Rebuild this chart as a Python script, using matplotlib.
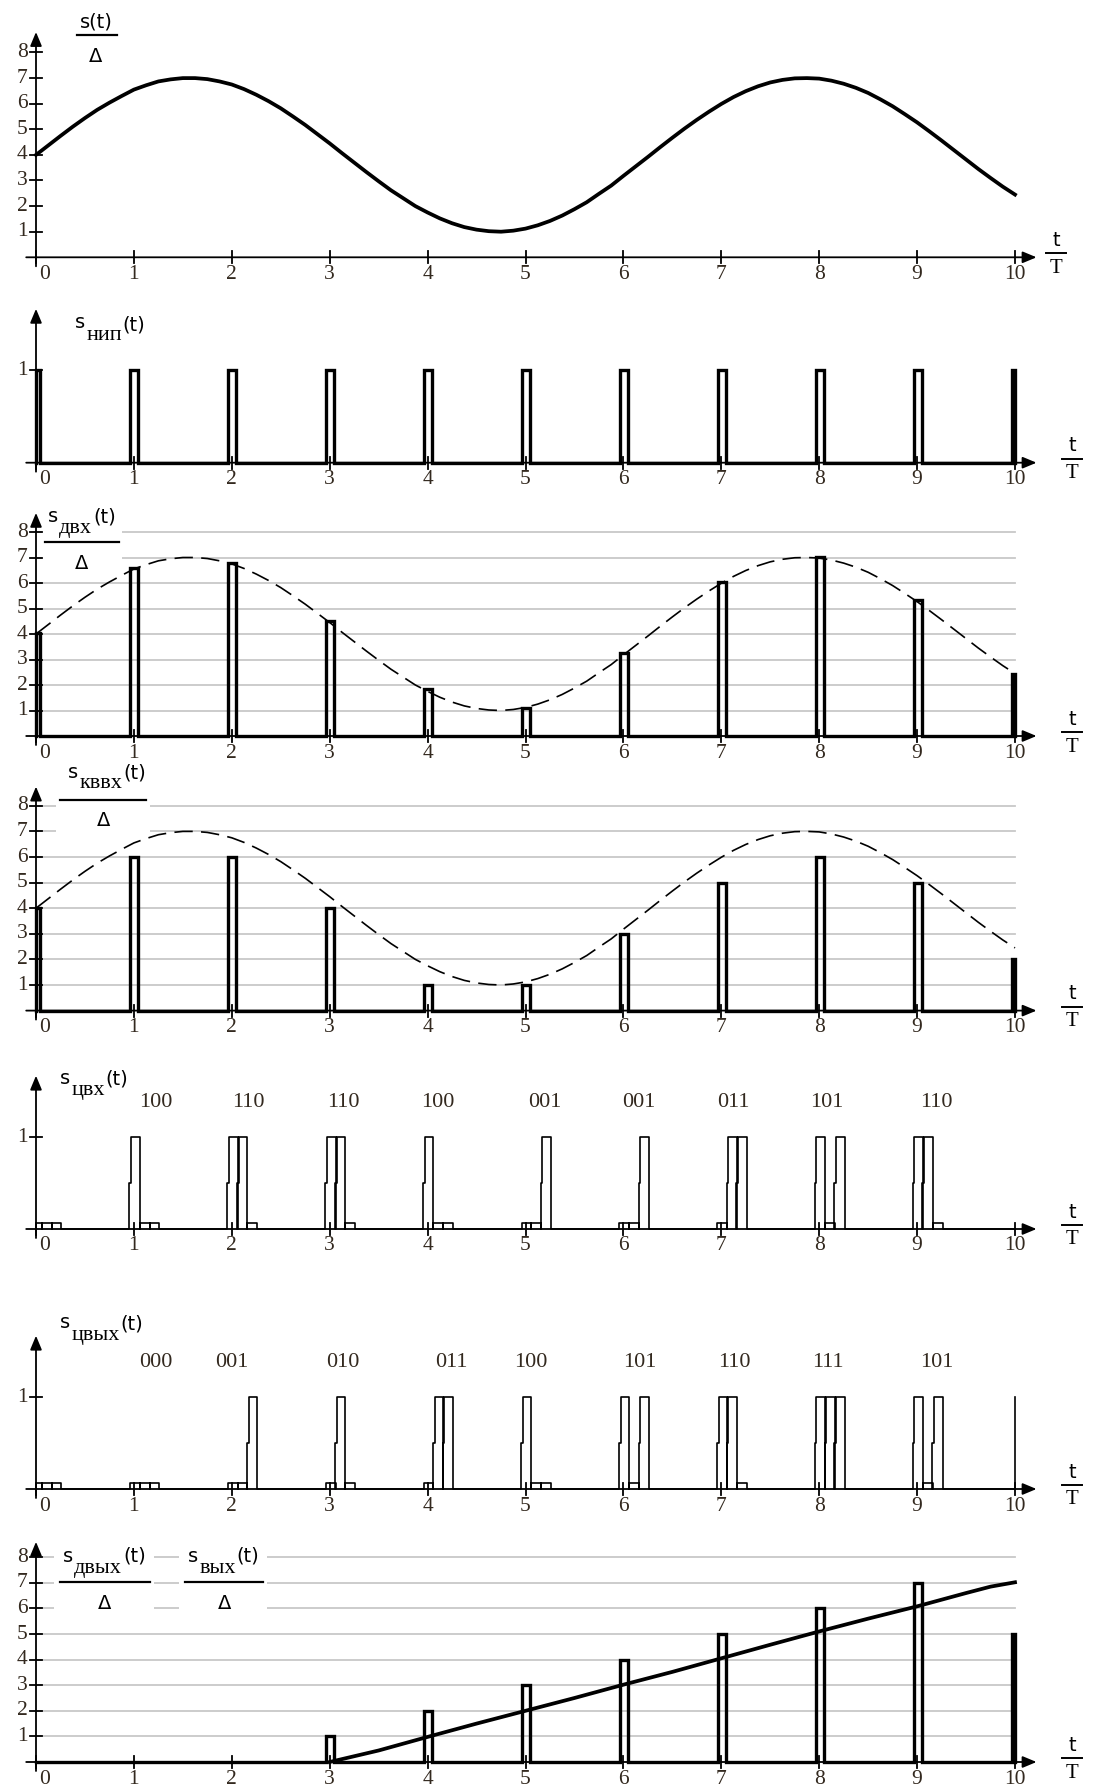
import numpy as np
import matplotlib
matplotlib.use('Agg')
import matplotlib.pyplot as plt
from matplotlib.patches import Rectangle
from matplotlib.lines import Line2D

W, H = 1094, 1792

# s(t)/Δ every 0.125 T
t_curve = np.arange(0, 10.001, 0.125)
s_curve = [4.00, 4.37, 4.74, 5.10, 5.44, 5.76, 6.04, 6.30, 6.55, 6.72, 6.87, 6.95, 7.00, 7.00,
           6.96, 6.87, 6.75, 6.57, 6.35, 6.10, 5.82, 5.50, 5.17, 4.81, 4.45, 4.07, 3.70, 3.33,
           2.97, 2.62, 2.31, 2.00, 1.75, 1.52, 1.33, 1.18, 1.08, 1.02, 1.00, 1.04, 1.12, 1.25,
           1.42, 1.63, 1.88, 2.15, 2.48, 2.80, 3.18, 3.55, 3.92, 4.30, 4.67, 5.03, 5.37, 5.69,
           5.99, 6.26, 6.49, 6.68, 6.83, 6.93, 6.99, 7.00, 6.98, 6.90, 6.78, 6.62, 6.42, 6.17,
           5.90, 5.59, 5.27, 4.92, 4.56, 4.19, 3.82, 3.45, 3.10, 2.76, 2.45]

t_k = list(range(11))
s_samples = [4.05, 6.6, 6.78, 4.5, 1.85, 1.1, 3.25, 6.05, 7.02, 5.32, 2.45]   # s_двх/Δ
s_quant = [4, 6, 6, 4, 1, 1, 3, 5, 6, 5, 2]                                     # s_кввх/Δ
codes_in = ['000', '100', '110', '110', '100', '001', '001', '011', '101', '110']
codes_out = ['000', '000', '001', '010', '011', '100', '101', '110', '111', '101']
label_in_t = [1.22, 2.17, 3.14, 4.10, 5.20, 6.16, 7.12, 8.08, 9.20]
label_out_t = [1.22, 2.00, 3.13, 4.24, 5.05, 6.17, 7.13, 8.09, 9.20]
s_out_levels = [0, 0, 0, 1, 2, 3, 4, 5, 6, 7, 5]                               # s_двых/Δ
t_smooth = [3.0, 3.5, 4.0, 4.5, 5.0, 5.5, 6.0, 6.5, 7.0, 7.5, 8.0, 8.5, 9.0, 9.5, 9.75, 10.0]
s_smooth = [0.0, 0.45, 0.98, 1.5, 2.0, 2.5, 3.02, 3.52, 4.05, 4.58, 5.1, 5.6, 6.08, 6.6, 6.85, 7.02]

TICK_C = '#33291f'
SERIF = 'Liberation Serif'
SANS = 'DejaVu Sans'

fig = plt.figure(figsize=(W / 100, H / 100), dpi=100)
renderer = fig.canvas.get_renderer()

X0, XU = 36.0, 97.9   # pixel of t=0, pixels per T
xl = (-X0 / XU, (W - X0) / XU)


def ptext(x, y, s, **kw):
    return fig.text(x / W, 1 - y / H, s, **kw)


def pline(x1, x2, y, lw=1.6):
    fig.add_artist(Line2D([x1 / W, x2 / W], [1 - y / H, 1 - y / H], transform=fig.transFigure,
                          color='k', lw=lw))


def make_panel(top, bottom, y0, unit, yticks, ytop, tT_x=1072):
    ax = fig.add_axes([0, 1 - bottom / H, 1, (bottom - top) / H])
    ax.set_xlim(*xl)
    ax.set_ylim((y0 - bottom) / unit, (y0 - top) / unit)
    ax.axis('off')
    px = 1.0 / unit
    # axes with arrows
    ax.annotate('', xy=(10.22, 0), xytext=(-0.1, 0), zorder=6,
                arrowprops=dict(arrowstyle='-|>,head_length=0.6,head_width=0.25', lw=1.3,
                                color='k', mutation_scale=14, shrinkA=0, shrinkB=0))
    ax.annotate('', xy=(0, ytop), xytext=(0, -9 * px), zorder=6,
                arrowprops=dict(arrowstyle='-|>,head_length=0.6,head_width=0.25', lw=1.3,
                                color='k', mutation_scale=14, shrinkA=0, shrinkB=0))
    for k in t_k:
        ax.plot([k, k], [-6 * px, 6 * px], color='k', lw=1.3, zorder=6)
        ax.text(k + (0.09 if k == 0 else 0), -17 * px, str(k), ha='center', va='center',
                fontsize=15.5, family=SERIF, color=TICK_C)
    for v in yticks:
        ax.plot([-0.065, 0.065], [v, v], color='k', lw=1.3, zorder=6)
        ax.text(-0.085, v, str(v), ha='right', va='center', fontsize=15.5, family=SERIF, color=TICK_C)
    # t/T
    ptext(tT_x, y0 - 17, 't', ha='center', va='center', fontsize=14, family=SANS)
    pline(tT_x - 10, tT_x + 10, y0 - 4, lw=1.4)
    ptext(tT_x, y0 + 11, 'T', ha='center', va='center', fontsize=15, family=SERIF)
    return ax


def grid(ax):
    for v in range(1, 9):
        ax.plot([0, 10], [v, v], color='#c8c8c8', lw=1.3, zorder=1)


def mask(ax, y0, unit, x1, x2, y1, y2):
    ax.add_patch(Rectangle(((x1 - X0) / XU, (y0 - y2) / unit), (x2 - x1) / XU, (y2 - y1) / unit,
                           facecolor='white', edgecolor='none', zorder=1.5))


def pulses(ax, heights, lw=2.4):
    xs, ys = [0], [0]
    for k, h in zip(t_k, heights):
        a = k - 0.035 if k > 0 else k
        b = k + 0.045 if k < 10 else k
        xs += [a, a, b, b]
        ys += [0, h, h, 0]
    ax.plot(xs, ys, color='k', lw=lw, zorder=4, solid_joinstyle='miter')


def bits(ax, codes, tail_one=False):
    xs, ys = [0], [0]
    for i, code in enumerate(codes):
        for j, b in enumerate(code):
            a = i - 0.04 + 0.1 * j
            if b == '1':
                xs += [a - 0.005, a - 0.005, a + 0.012, a + 0.012, a + 0.1, a + 0.1]
                ys += [0, 0.5, 0.5, 1, 1, 0]
            else:
                xs += [a, a, a + 0.1, a + 0.1]
                ys += [0, 0.065, 0.065, 0]
    xs += [10]
    ys += [0]
    if tail_one:
        xs += [10]
        ys += [1]
    ax.plot(np.clip(xs, 0, 10), ys, color='k', lw=1.2, zorder=4)


def sub_label(xs, ys, ysub, yt, sub):
    t1 = ptext(xs, ys, 's', ha='left', va='center', fontsize=14, family=SANS)
    x = t1.get_window_extent(renderer).x1 + 1
    t2 = ptext(x, ysub, sub, ha='left', va='center', fontsize=16, family=SERIF)
    x = t2.get_window_extent(renderer).x1 + 1
    ptext(x, yt, '(t)', ha='left', va='center', fontsize=14, family=SANS)


# 1: s(t)/Δ
ax1 = make_panel(0, 290, 257.3, 25.6, range(1, 9), 8.8, tT_x=1056)
ax1.plot(t_curve, s_curve, color='k', lw=2.7, zorder=3)
ptext(96, 22, 's(t)', ha='center', va='center', fontsize=14, family=SANS)
pline(77, 117, 35)
ptext(96, 56, 'Δ', ha='center', va='center', fontsize=14, family=SANS)

# 2: s_нип(t)
ax2 = make_panel(290, 500, 462.7, 92.7, [1], 1.66)
pulses(ax2, [1] * 11)
sub_label(75, 322, 336, 325, 'нип')

# 3: s_двх(t)/Δ
ax3 = make_panel(500, 770, 736, 25.5, range(1, 9), 8.75)
grid(ax3)
mask(ax3, 736, 25.5, 42, 122, 500, 575)
ax3.plot(t_curve, s_curve, color='k', lw=1.2, dashes=(11, 5), zorder=3)
pulses(ax3, s_samples)
sub_label(48, 517, 528, 517, 'двх')
pline(45, 119, 541.7)
ptext(82, 563, 'Δ', ha='center', va='center', fontsize=14, family=SANS)

# 4: s_кввх(t)/Δ
ax4 = make_panel(770, 1050, 1010.6, 25.6, range(1, 9), 8.75)
grid(ax4)
mask(ax4, 1010.6, 25.6, 56, 150, 770, 834)
ax4.plot(t_curve, s_curve, color='k', lw=1.2, dashes=(11, 5), zorder=3)
pulses(ax4, s_quant)
sub_label(68, 772, 783, 773, 'кввх')
pline(60, 146, 800)
ptext(104, 821, 'Δ', ha='center', va='center', fontsize=14, family=SANS)

# 5: s_цвх(t)
ax5 = make_panel(1050, 1270, 1229, 91.8, [1], 1.67)
bits(ax5, codes_in)
for t, c in zip(label_in_t, codes_in[1:]):
    ax5.text(t, 1.38, c, ha='center', va='center', fontsize=16, family=SERIF, color=TICK_C)
sub_label(60, 1079, 1090, 1079, 'цвх')

# 6: s_цвых(t)
ax6 = make_panel(1270, 1520, 1489, 91.8, [1], 1.67)
bits(ax6, codes_out, tail_one=True)
for t, c in zip(label_out_t, codes_out[1:]):
    ax6.text(t, 1.38, c, ha='center', va='center', fontsize=16, family=SERIF, color=TICK_C)
sub_label(60, 1322, 1335, 1324, 'цвых')

# 7: s_двых(t)/Δ and s_вых(t)/Δ
ax7 = make_panel(1520, 1792, 1762, 25.6, range(1, 9), 8.6)
grid(ax7)
mask(ax7, 1762, 25.6, 54, 154, 1520, 1614)
mask(ax7, 1762, 25.6, 179, 267, 1520, 1614)
pulses(ax7, s_out_levels)
ax7.plot(t_smooth, s_smooth, color='k', lw=2.7, zorder=3)
sub_label(63, 1557, 1568, 1556, 'двых')
pline(60, 150, 1581.7)
ptext(105, 1603, 'Δ', ha='center', va='center', fontsize=14, family=SANS)
sub_label(188, 1557, 1568, 1556, 'вых')
pline(185, 263, 1581.7)
ptext(225, 1603, 'Δ', ha='center', va='center', fontsize=14, family=SANS)

fig.savefig('out.png', dpi=100)
